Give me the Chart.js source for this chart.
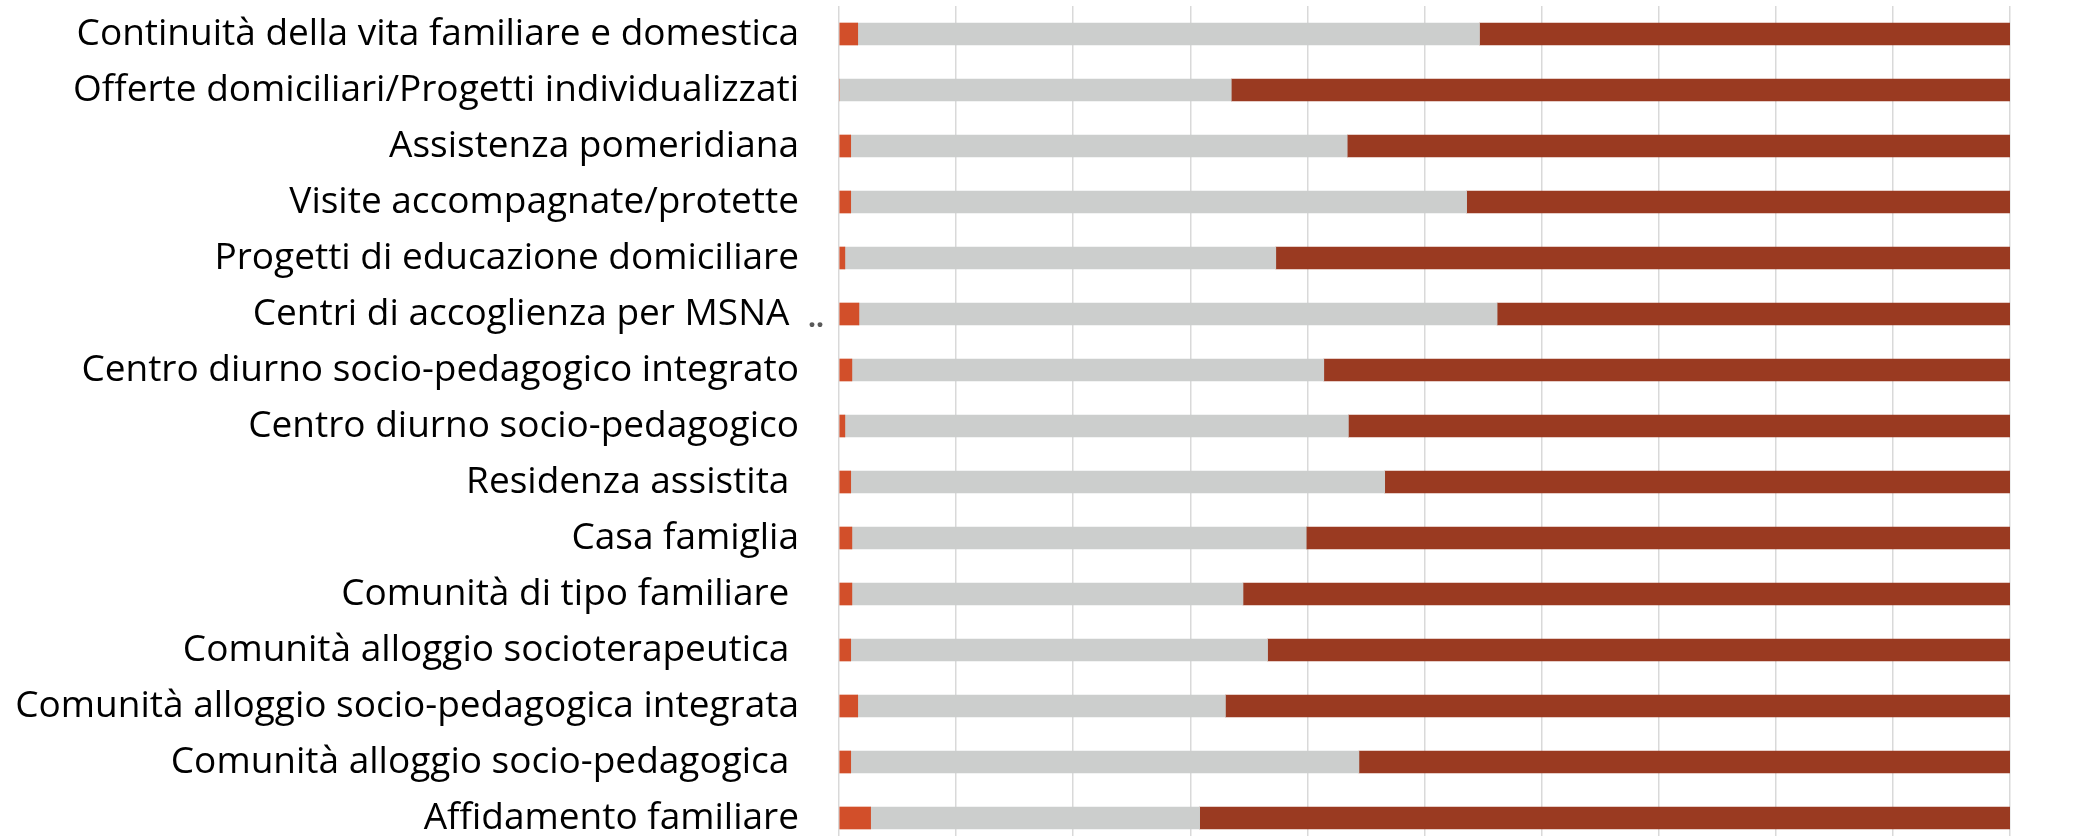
<!DOCTYPE html>
<html>
<head>
<meta charset="utf-8">
<script src="https://cdn.jsdelivr.net/npm/chart.js@4.4.1/dist/chart.umd.min.js"></script>
<style>
  html, body { margin: 0; padding: 0; background: #fff; overflow: hidden; }
  #wrap { width: 2074px; height: 846px; }
</style>
</head>
<body>
<div id="wrap"><canvas id="servizi"></canvas></div>
<script>
// categorie (dall'alto verso il basso)
const categories = [
  'Continuità della vita familiare e domestica',
  'Offerte domiciliari/Progetti individualizzati',
  'Assistenza pomeridiana',
  'Visite accompagnate/protette',
  'Progetti di educazione domiciliare',
  'Centri di accoglienza per MSNA ',
  'Centro diurno socio-pedagogico integrato',
  'Centro diurno socio-pedagogico',
  'Residenza assistita ',
  'Casa famiglia',
  'Comunità di tipo familiare ',
  'Comunità alloggio socioterapeutica ',
  'Comunità alloggio socio-pedagogica integrata',
  'Comunità alloggio socio-pedagogica ',
  'Affidamento familiare'
];

// quote percentuali
const quotaArancio = [1.6, 0, 1.0, 1.0, 0.5, 1.7, 1.1, 0.5, 1.0, 1.1, 1.1, 1.0, 1.6, 1.0, 2.7];
const quotaGrigio = [53.1, 33.5, 42.4, 52.6, 36.8, 54.5, 40.3, 43.0, 45.6, 38.8, 33.4, 35.6, 31.4, 43.4, 28.1];
const quotaRosso = [45.3, 66.5, 56.6, 46.4, 62.7, 43.8, 58.6, 56.5, 53.4, 60.1, 65.5, 63.4, 67.0, 55.6, 69.2];

const xTicks = [0, 10, 20, 30, 40, 50, 60, 70, 80, 90, 100];

// i due puntini grigi accanto a "Centri di accoglienza per MSNA"
const puntini = { index: 5, text: '..' };

const puntiniPlugin = {
  id: 'puntini',
  afterDraw: function (chart) {
    const c = chart.ctx;
    const y = chart.scales.y.getPixelForValue(puntini.index);
    c.save();
    c.font = 'bold 28px "Open Sans"';
    c.fillStyle = '#595959';
    c.textAlign = 'left';
    c.textBaseline = 'alphabetic';
    c.fillText(puntini.text, chart.chartArea.left - 31, y + 13);
    c.restore();
  }
};

const ctx = document.getElementById('servizi');

new Chart(ctx, {
  type: 'bar',
  data: {
    labels: categories,
    datasets: [
      { data: quotaArancio, backgroundColor: '#D24F2A' },
      { data: quotaGrigio, backgroundColor: '#CCCECD' },
      { data: quotaRosso, backgroundColor: '#9A3A21' }
    ]
  },
  plugins: [puntiniPlugin],
  options: {
    indexAxis: 'y',
    responsive: true,
    maintainAspectRatio: false,
    animation: false,
    datasets: {
      bar: { barThickness: 22, borderWidth: 0 }
    },
    layout: {
      padding: { top: 6, right: 64, bottom: 0, left: 0 }
    },
    plugins: {
      legend: { display: false },
      tooltip: { enabled: false }
    },
    scales: {
      x: {
        stacked: true,
        min: xTicks[0],
        max: xTicks[xTicks.length - 1],
        ticks: { display: false, stepSize: 10 },
        grid: { color: '#d9d9d9', lineWidth: 1.5, drawTicks: false },
        border: { display: false },
        afterFit: function (scale) { scale.height = 0; }
      },
      y: {
        stacked: true,
        grid: { display: false, drawTicks: false },
        border: { display: false },
        ticks: {
          color: '#000',
          padding: 40,
          font: { family: 'Open Sans', size: 37 }
        },
        afterFit: function (scale) {
          scale.width = 839;
          scale.paddingTop = 0;
          scale.paddingBottom = 0;
        }
      }
    }
  }
});
</script>
</body>
</html>
